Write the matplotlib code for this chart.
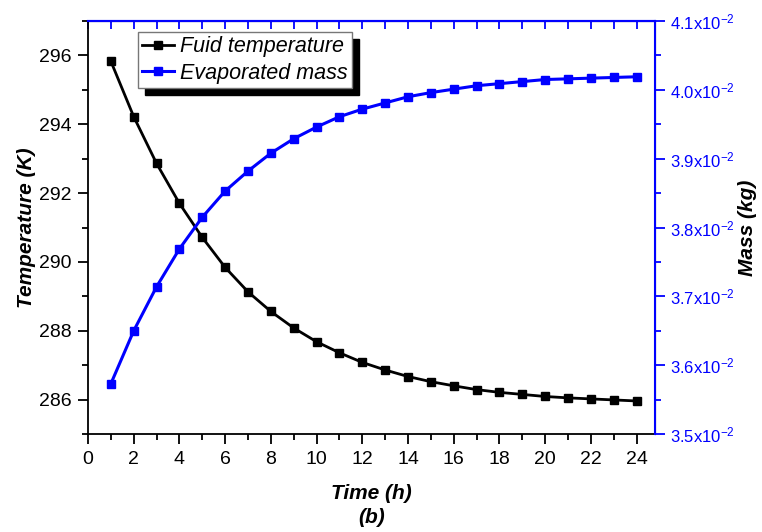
import matplotlib
matplotlib.use('Agg')
import matplotlib.pyplot as plt
from matplotlib.ticker import MultipleLocator, FuncFormatter, NullFormatter

plt.rcParams['font.family'] = ['Liberation Sans', 'DejaVu Sans']
plt.rcParams['mathtext.fontset'] = 'custom'
plt.rcParams['mathtext.rm'] = 'Liberation Sans'
plt.rcParams['mathtext.it'] = 'Liberation Sans:italic'

time_h = list(range(1, 25))
temperature = [295.83, 294.22, 292.86, 291.70, 290.71, 289.84, 289.13, 288.56,
               288.08, 287.68, 287.36, 287.08, 286.86, 286.67, 286.52, 286.40,
               286.29, 286.21, 286.15, 286.09, 286.05, 286.02, 285.99, 285.96]
mass_e2 = [3.573, 3.650, 3.714, 3.769, 3.815, 3.853, 3.882, 3.908, 3.929, 3.946,
           3.961, 3.972, 3.981, 3.990, 3.996, 4.001, 4.006, 4.009, 4.012, 4.015,
           4.016, 4.017, 4.018, 4.019]
mass = [m * 1e-2 for m in mass_e2]

fig = plt.figure(figsize=(7.62, 5.32), dpi=100)
ax = fig.add_axes([0.1155, 0.1842, 0.744, 0.7763])
ax2 = ax.twinx()

l1, = ax.plot(time_h, temperature, color='black', lw=2, marker='s', ms=6,
              label='Fuid temperature')
l2, = ax2.plot(time_h, mass, color='blue', lw=2.2, marker='s', ms=6,
               label='Evaporated mass')

ax.set_xlim(0, 24.8)
ax.set_ylim(285, 297)
ax2.set_ylim(0.035, 0.041)

ax.xaxis.set_major_locator(MultipleLocator(2))
ax.xaxis.set_minor_locator(MultipleLocator(1))
ax.yaxis.set_major_locator(MultipleLocator(2))
ax.yaxis.set_minor_locator(MultipleLocator(1))
ax2.yaxis.set_major_locator(MultipleLocator(0.001))
ax2.yaxis.set_minor_locator(MultipleLocator(0.0005))
ax2.yaxis.set_major_formatter(FuncFormatter(lambda v, p: '%.1fx10$^{\\mathregular{-2}}$' % (v * 100)))

ax.tick_params(axis='both', which='major', direction='out', length=7, width=1.3,
               labelsize=14, pad=5)
ax.tick_params(axis='both', which='minor', direction='out', length=4.5, width=1.3)

# inward blue ticks on the top spine
top = ax.secondary_xaxis('top')
top.xaxis.set_major_locator(MultipleLocator(1))
top.xaxis.set_major_formatter(NullFormatter())
top.tick_params(axis='x', direction='in', length=6, width=1.3, colors='blue')
top.spines['top'].set_color('blue')
top.spines['top'].set_linewidth(1.5)

ax2.tick_params(axis='y', which='major', direction='out', length=7, width=1.3,
                colors='blue', labelsize=12, pad=4)
ax2.tick_params(axis='y', which='minor', direction='out', length=4.5, width=1.3,
                colors='blue')

for s in ['left', 'bottom']:
    ax.spines[s].set_linewidth(1.3)
ax2.spines['right'].set_color('blue')
ax2.spines['top'].set_color('blue')
ax2.spines['right'].set_linewidth(1.5)
ax2.spines['top'].set_linewidth(1.5)
ax2.spines['left'].set_visible(False)
ax2.spines['bottom'].set_visible(False)

ax.set_ylabel('Temperature (K)', fontsize=15, fontweight='bold', style='italic',
              labelpad=2)
ax2.set_ylabel('Mass (kg)', fontsize=15, fontweight='bold', style='italic',
               rotation=90, labelpad=2)
ax.set_xlabel('Time (h)\n(b)', fontsize=15, fontweight='bold', style='italic',
              labelpad=12, linespacing=1.3)

leg = ax.legend(handles=[l1, l2], loc='upper left', bbox_to_anchor=(0.088, 0.973),
                fontsize=15.5, frameon=True, fancybox=False,
                shadow={'color': 'black', 'alpha': 1, 'ox': 5, 'oy': -5},
                handlelength=1.5, handletextpad=0.25, borderpad=0.2,
                labelspacing=0.25, borderaxespad=0)
for t in leg.get_texts():
    t.set_style('italic')
leg.get_frame().set_edgecolor('#777777')
leg.get_frame().set_linewidth(1.0)

fig.savefig('out.png', dpi=100)
